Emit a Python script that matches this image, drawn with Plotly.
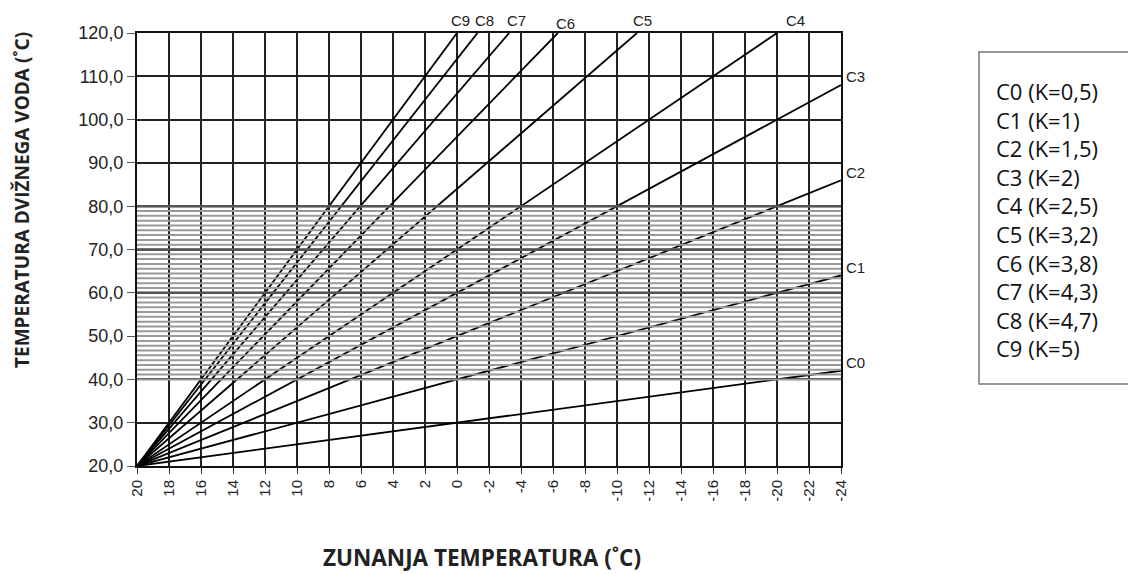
import plotly.graph_objects as go
import numpy as np

# ---- data ----
curve_names = ["C0", "C1", "C2", "C3", "C4", "C5", "C6", "C7", "C8", "C9"]
legend_texts = ["C0 (K=0,5)", "C1 (K=1)", "C2 (K=1,5)", "C3 (K=2)", "C4 (K=2,5)",
                "C5 (K=3,2)", "C6 (K=3,8)", "C7 (K=4,3)", "C8 (K=4,7)", "C9 (K=5)"]

c0_x = [20, 10, 0, -10, -20, -24]
c0_y = [20, 25, 30, 35, 40, 42]
c1_x = [20, 10, 0, -10, -20, -24]
c1_y = [20, 30, 40, 50, 60, 64]
c2_x = [20, 10, 0, -10, -20, -24]
c2_y = [20, 35, 50, 65, 80, 86]
c3_x = [20, 10, 0, -10, -20, -24]
c3_y = [20, 40, 60, 80, 100, 108]
c4_x = [20, 10, 0, -10, -20]
c4_y = [20, 45, 70, 95, 120]
c5_x = [20, 10, 0, -11.25]
c5_y = [20, 52, 84, 120]
c6_x = [20, 10, 0, -6.3]
c6_y = [20, 58, 96, 120]
c7_x = [20, 10, 0, -3.26]
c7_y = [20, 63, 106, 120]
c8_x = [20, 10, 0, -1.28]
c8_y = [20, 67, 114, 120]
c9_x = [20, 10, 0]
c9_y = [20, 70, 120]

curves_x = [c0_x, c1_x, c2_x, c3_x, c4_x, c5_x, c6_x, c7_x, c8_x, c9_x]
curves_y = [c0_y, c1_y, c2_y, c3_y, c4_y, c5_y, c6_y, c7_y, c8_y, c9_y]

x_ticks = [20, 18, 16, 14, 12, 10, 8, 6, 4, 2, 0, -2, -4, -6, -8, -10, -12, -14,
           -16, -18, -20, -22, -24]
x_tick_labels = [str(v) for v in x_ticks]
y_ticks = [20, 30, 40, 50, 60, 70, 80, 90, 100, 110, 120]
y_tick_labels = ["20,0", "30,0", "40,0", "50,0", "60,0", "70,0", "80,0", "90,0",
                 "100,0", "110,0", "120,0"]
band_low, band_high = 40, 80

fig = go.Figure()

for name, xs, ys in zip(curve_names, curves_x, curves_y):
    fig.add_trace(go.Scatter(x=xs, y=ys, mode="lines", name=name,
                             line=dict(color="black", width=1.8),
                             showlegend=False, hoverinfo="skip"))

# hatched band (decoration drawn on top)
hatch = np.linspace(band_low, band_high, 37)
hx, hy = [], []
for h in hatch:
    hx += [x_ticks[0], x_ticks[-1], None]
    hy += [h, h, None]
fig.add_trace(go.Scatter(x=hx, y=hy, mode="lines", line=dict(color="#9a9a9a", width=2),
                         showlegend=False, hoverinfo="skip"))
mx, my = [], []
for h in [60, 70, 80]:
    mx += [x_ticks[0], x_ticks[-1], None]
    my += [h, h, None]
fig.add_trace(go.Scatter(x=mx, y=my, mode="lines", line=dict(color="#555555", width=2.5),
                         showlegend=False, hoverinfo="skip"))

# curve labels
label_font = dict(family="Liberation Sans, Arial", size=15, color="#222")
top_shift = {"C4": 18, "C5": 5, "C6": 8, "C7": 7, "C8": 7, "C9": 3}
for name, xs, ys in zip(curve_names, curves_x, curves_y):
    if ys[-1] >= 120:
        fig.add_annotation(x=xs[-1], y=ys[-1], xref="x", yref="y", text=name,
                           showarrow=False, font=label_font, xanchor="center",
                           yanchor="bottom", xshift=top_shift[name],
                           yshift=2 if name != "C6" else -1)
    else:
        fig.add_annotation(x=xs[-1], y=ys[-1], xref="x", yref="y", text=name,
                           showarrow=False, font=label_font, xanchor="left",
                           yanchor="middle", xshift=3, yshift=8)

# layout geometry (page pixels; the page body adds an 8px offset)
OFF = 8
W, H = 1136 - OFF, 574 - OFF
PL, PR, PT, PB = 137, 841, 33, 466   # plot area in page pixels
L, T = PL - OFF, PT - OFF
R, B = W - (PR - OFF), H - (PB - OFF)
pw, ph = PR - PL, PB - PT
def px(x):
    return (x - PL) / pw
def py(y):
    return (PB - y) / ph

fig.add_shape(type="rect", xref="paper", yref="paper",
              x0=px(979), x1=px(1145), y0=py(384), y1=py(52),
              line=dict(color="#777", width=1.5), fillcolor="white")
fig.add_annotation(xref="paper", yref="paper", x=px(994), y=py(219),
                   text="<br>".join(legend_texts), showarrow=False,
                   xanchor="left", yanchor="middle", align="left",
                   font=dict(family="Open Sans", size=22, color="#111"))

# axis titles
fig.add_annotation(xref="paper", yref="paper", x=px(482), y=py(557),
                   text="<b>ZUNANJA TEMPERATURA (˚C)</b>", showarrow=False,
                   xanchor="center", yanchor="middle",
                   font=dict(family="Open Sans", size=22.5, color="#222"))
fig.add_annotation(xref="paper", yref="paper", x=px(22), y=py(200),
                   text="<b>TEMPERATURA DVIŽNEGA VODA (˚C)</b>", showarrow=False,
                   textangle=-90, xanchor="center", yanchor="middle",
                   font=dict(family="Open Sans", size=19, color="#222"))

fig.update_layout(
    width=W, height=H,
    margin=dict(l=L, r=R, t=T, b=B),
    paper_bgcolor="white", plot_bgcolor="white",
    showlegend=False,
    xaxis=dict(range=[20, -24], tickvals=x_ticks, ticktext=x_tick_labels,
               tickangle=-90, showgrid=True, gridcolor="#222", gridwidth=1.5,
               showline=True, linecolor="#111", linewidth=2, mirror=True,
               ticks="outside", ticklen=6, tickcolor="#333",
               tickfont=dict(family="Liberation Sans, Arial", size=15, color="#222"),
               zeroline=False),
    yaxis=dict(range=[20, 120], tickvals=y_ticks, ticktext=y_tick_labels,
               showgrid=True, gridcolor="#222", gridwidth=1.5,
               showline=True, linecolor="#111", linewidth=2, mirror=True,
               ticks="outside", ticklen=8, tickcolor="#555",
               tickfont=dict(family="Liberation Sans, Arial", size=18, color="#222"),
               zeroline=False),
)

fig.write_html("out.html")
